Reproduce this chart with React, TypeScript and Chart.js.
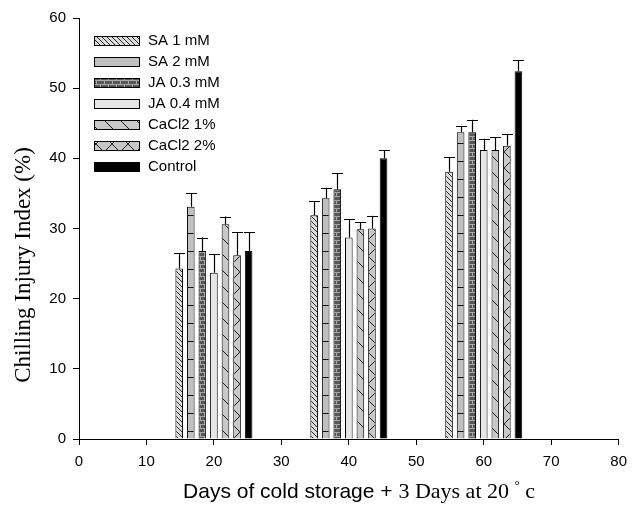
import React, { useEffect, useRef } from 'react';
import { Chart, registerables } from 'chart.js';

Chart.register(...registerables);

// ---- data ----
const storageDays = [20, 40, 60];
const seriesNames = ['SA 1 mM', 'SA 2 mM', 'JA 0.3 mM', 'JA 0.4 mM', 'CaCl2 1%', 'CaCl2 2%', 'Control'];
const sa1 = [24.3, 31.9, 38.1];
const sa1Err = [2.2, 2.0, 2.1];
const sa2 = [33.1, 34.3, 43.7];
const sa2Err = [1.9, 1.5, 0.9];
const ja03 = [26.8, 35.6, 43.7];
const ja03Err = [1.9, 2.3, 1.8];
const ja04 = [23.7, 28.7, 41.2];
const ja04Err = [2.6, 2.6, 1.6];
const cacl1 = [30.6, 29.9, 41.2];
const cacl1Err = [1.1, 1.0, 1.8];
const cacl2 = [26.2, 30.0, 41.8];
const cacl2Err = [3.3, 1.8, 1.6];
const control = [26.8, 40.0, 52.4];
const controlErr = [2.7, 1.2, 1.6];
const xMin = 0, xMax = 80, xStep = 10;
const yMin = 0, yMax = 60, yStep = 10;

const seriesValues = [sa1, sa2, ja03, ja04, cacl1, cacl2, control];
const seriesErrors = [sa1Err, sa2Err, ja03Err, ja04Err, cacl1Err, cacl2Err, controlErr];
const patternKinds = ['diagDense', 'hLines', 'brick', 'plainLight', 'diagSparse', 'cross', 'black'];

function makePattern(kind: string): CanvasPattern | string {
  const c = document.createElement('canvas');
  const ctx = c.getContext('2d')!;
  const line = (x1: number, y1: number, x2: number, y2: number) => {
    ctx.beginPath();
    ctx.moveTo(x1, y1);
    ctx.lineTo(x2, y2);
    ctx.stroke();
  };
  if (kind === 'diagDense') {
    const s = 5;
    c.width = s; c.height = s;
    ctx.fillStyle = '#dcdcdc'; ctx.fillRect(0, 0, s, s);
    ctx.strokeStyle = '#2a2a2a'; ctx.lineWidth = 1;
    line(-1, -1, s + 1, s + 1);
    line(-s - 1, -1, 1, s + 1);
    line(s - 1, -s - 1, 2 * s + 1, s + 1);
  } else if (kind === 'hLines') {
    c.width = 8; c.height = 18;
    ctx.fillStyle = '#c0c0c0'; ctx.fillRect(0, 0, 8, 18);
    ctx.fillStyle = '#111'; ctx.fillRect(0, 17, 8, 1);
  } else if (kind === 'brick') {
    c.width = 8; c.height = 8;
    ctx.fillStyle = '#565656'; ctx.fillRect(0, 0, 8, 8);
    ctx.fillStyle = '#a8a8a8';
    ctx.fillRect(0, 0, 8, 1);
    ctx.fillRect(0, 4, 8, 1);
    ctx.fillRect(0, 0, 1, 4);
    ctx.fillRect(4, 4, 1, 4);
  } else if (kind === 'plainLight') {
    return '#e6e6e6';
  } else if (kind === 'diagSparse') {
    const s = 16;
    c.width = s; c.height = s;
    ctx.fillStyle = '#c8c8c8'; ctx.fillRect(0, 0, s, s);
    ctx.strokeStyle = '#1a1a1a'; ctx.lineWidth = 1;
    line(-1, -1, s + 1, s + 1);
  } else if (kind === 'cross') {
    const s = 16;
    c.width = s; c.height = s;
    ctx.fillStyle = '#c8c8c8'; ctx.fillRect(0, 0, s, s);
    ctx.strokeStyle = '#1a1a1a'; ctx.lineWidth = 1;
    line(-1, -1, s + 1, s + 1);
    line(s + 1, -1, -1, s + 1);
  } else {
    return '#000000';
  }
  return ctx.createPattern(c, 'repeat')!;
}

const errorBarPlugin = {
  id: 'errorBars',
  afterDatasetsDraw(chart: any) {
    const ctx = chart.ctx;
    const yScale = chart.scales.y;
    ctx.save();
    ctx.strokeStyle = '#000';
    ctx.lineWidth = 1.2;
    chart.data.datasets.forEach((ds: any, di: number) => {
      const meta = chart.getDatasetMeta(di);
      meta.data.forEach((bar: any, i: number) => {
        const v = seriesValues[di][i];
        const e = seriesErrors[di][i];
        const yTop = yScale.getPixelForValue(v + e);
        const x = Math.round(bar.x) + 0.5;
        ctx.beginPath();
        ctx.moveTo(x, bar.y);
        ctx.lineTo(x, yTop);
        ctx.moveTo(x - 5.5, Math.round(yTop) + 0.5);
        ctx.lineTo(x + 5.5, Math.round(yTop) + 0.5);
        ctx.stroke();
      });
    });
    ctx.restore();
  },
};

const decorPlugin = {
  id: 'decor',
  afterDraw(chart: any) {
    const ctx = chart.ctx;
    ctx.save();
    // legend
    const rowY0 = 40.5;
    const rowGap = 21;
    chart.data.datasets.forEach((ds: any, i: number) => {
      const cy = rowY0 + i * rowGap;
      const bx = 94, bw = 46, bh = 10;
      ctx.fillStyle = ds.backgroundColor;
      ctx.fillRect(bx, Math.round(cy - bh / 2), bw, bh);
      ctx.strokeStyle = '#000';
      ctx.lineWidth = 1;
      ctx.strokeRect(bx + 0.5, Math.round(cy - bh / 2) + 0.5, bw - 1, bh - 1);
      ctx.fillStyle = '#000';
      ctx.font = "15px 'Liberation Sans', Arial, sans-serif";
      ctx.textAlign = 'left';
      ctx.textBaseline = 'middle';
      ctx.fillText(seriesNames[i], 148, cy + 0.5);
    });
    // y title
    ctx.save();
    ctx.translate(24, 265);
    ctx.rotate(-Math.PI / 2);
    ctx.font = "23px 'Liberation Serif', 'Times New Roman', serif";
    ctx.textAlign = 'center';
    ctx.textBaseline = 'middle';
    ctx.fillStyle = '#000';
    ctx.fillText('Chilling Injury Index (%)', 0, 0);
    ctx.restore();
    // x title (mixed fonts)
    const parts = [
      { t: 'Days of cold storage + ', f: "21px 'Liberation Sans', Arial, sans-serif", dy: 0 },
      { t: '3 Days at 20 ', f: "22px 'Liberation Serif', 'Times New Roman', serif", dy: 0 },
      { t: '\u00b0', f: "13px 'Liberation Serif', 'Times New Roman', serif", dy: -9 },
      { t: ' c', f: "22px 'Liberation Serif', 'Times New Roman', serif", dy: 0 },
    ];
    let total = 0;
    const widths = parts.map((p) => {
      ctx.font = p.f;
      const w = ctx.measureText(p.t).width;
      total += w;
      return w;
    });
    let x = 359 - total / 2;
    const baseY = 498;
    ctx.textAlign = 'left';
    ctx.textBaseline = 'alphabetic';
    ctx.fillStyle = '#000';
    parts.forEach((p, i) => {
      ctx.font = p.f;
      ctx.fillText(p.t, x, baseY + p.dy);
      x += widths[i];
    });
    ctx.restore();
  },
};

export default function App() {
  const ref = useRef<HTMLCanvasElement>(null);
  useEffect(() => {
    document.body.style.margin = '0';
    const canvas = ref.current!;
    const datasets = seriesNames.map((name, i) => ({
      label: name,
      data: storageDays.map((d, j) => ({ x: d, y: seriesValues[i][j] })),
      backgroundColor: makePattern(patternKinds[i]) as any,
      borderColor: '#000',
      borderWidth: 1,
      categoryPercentage: 1.2,
      barPercentage: 0.66,
    }));
    const chart = new Chart(canvas, {
      type: 'bar',
      data: { datasets },
      options: {
        responsive: false,
        animation: false,
        layout: { padding: { left: 0, top: 18, right: 9, bottom: 0 } },
        plugins: { legend: { display: false }, tooltip: { enabled: false } },
        scales: {
          x: {
            type: 'linear',
            min: xMin,
            max: xMax,
            offset: false,
            grid: { display: true, drawOnChartArea: false, drawTicks: true, tickLength: 6, color: '#000', offset: false },
            border: { display: true, color: '#000', width: 1 },
            ticks: { stepSize: xStep, padding: 8, color: '#000', font: { family: "'Liberation Sans', Arial, sans-serif", size: 15 } },
            afterFit: (s: any) => { s.height = 66; },
          },
          y: {
            min: yMin,
            max: yMax,
            grid: { display: true, drawOnChartArea: false, drawTicks: true, tickLength: 6, color: '#000' },
            border: { display: true, color: '#000', width: 1 },
            ticks: { stepSize: yStep, padding: 7, color: '#000', font: { family: "'Liberation Sans', Arial, sans-serif", size: 15 } },
            afterFit: (s: any) => { s.width = 79; },
          },
        },
      },
      plugins: [errorBarPlugin, decorPlugin],
    });
    return () => chart.destroy();
  }, []);
  return <canvas ref={ref} width={635} height={505} style={{ display: 'block', width: 635, height: 505 }} />;
}
